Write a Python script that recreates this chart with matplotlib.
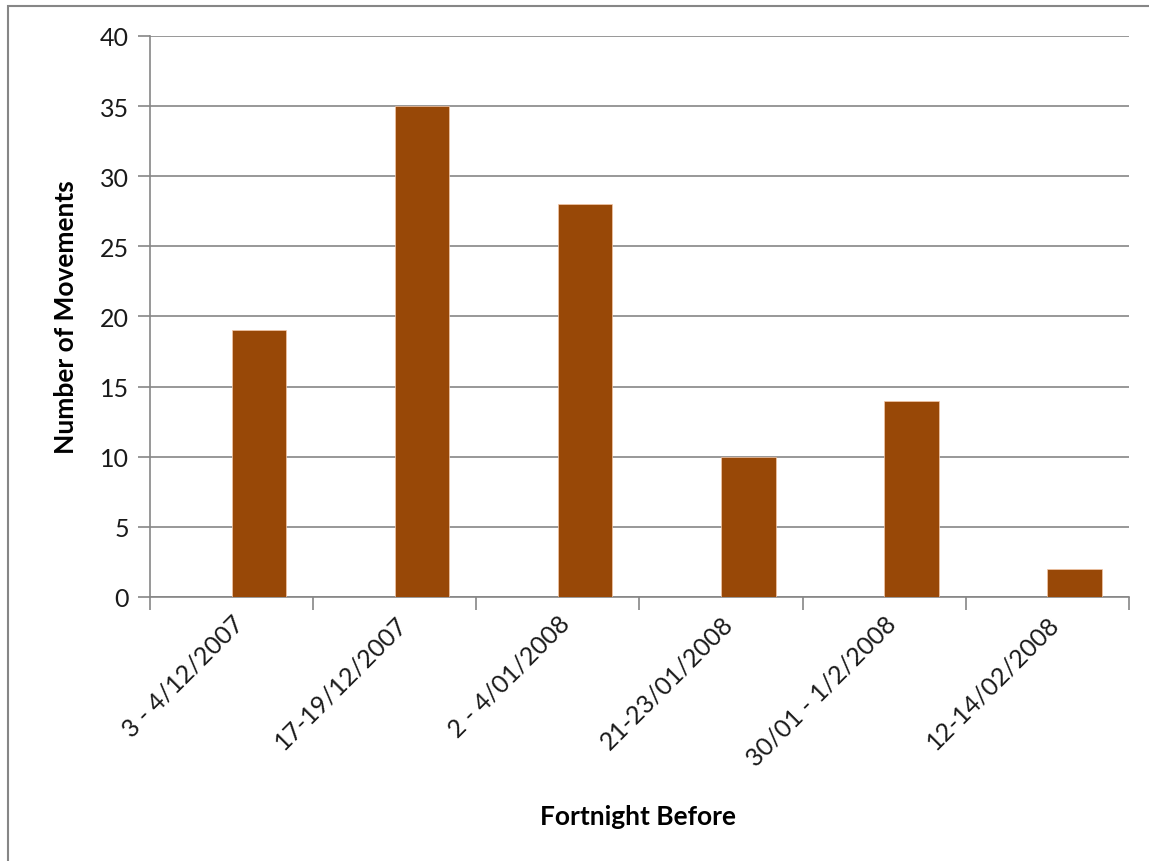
import numpy as np
import matplotlib.pyplot as plt
from matplotlib.patches import Rectangle

periods = ["3 - 4/12/2007", "17-19/12/2007", "2 - 4/01/2008",
           "21-23/01/2008", "30/01 - 1/2/2008", "12-14/02/2008"]
movements = [19, 35, 28, 10, 14, 2]

plt.rcParams['font.family'] = ['Lato', 'DejaVu Sans']

fig = plt.figure(figsize=(11.49, 8.62), dpi=100)
ax = fig.add_axes([0.1305, 0.3063, 0.852, 0.6508])

# frame around the whole chart area
fig.patches.append(Rectangle((8 / 1149, -0.05), 1.2, 1 - 7 / 862 + 0.05,
                             transform=fig.transFigure, fill=False,
                             edgecolor='#868686', linewidth=1.5))

x = np.arange(len(periods))
ax.bar(x + 0.5, movements, width=0.335, align='edge', color='#984807',
       edgecolor='#f4c7a8', linewidth=0.5, zorder=3)

ax.set_xlim(0, len(periods))
ax.set_ylim(0, 40)
ax.set_yticks(np.arange(0, 41, 5))
ax.grid(axis='y', color='#868686', linewidth=1.2, zorder=0)

ax.set_xticks(x + 0.5, minor=False)
ax.set_xticklabels(periods, rotation=45, ha='right', va='top',
                   rotation_mode='anchor', fontsize=18, color='#1a1a1a')
ax.tick_params(axis='x', which='major', length=0, pad=10)
ax.set_xticks(np.arange(len(periods) + 1), minor=True)
ax.tick_params(axis='x', which='minor', length=9, width=1.2, color='#868686')
ax.tick_params(axis='y', length=9, width=1.2, color='#868686',
               labelsize=18, labelcolor='#1a1a1a', pad=6)

for side in ['top', 'right']:
    ax.spines[side].set_visible(False)
for side in ['left', 'bottom']:
    ax.spines[side].set_color('#868686')
    ax.spines[side].set_linewidth(1.2)

ax.set_ylabel("Number of Movements", fontsize=19, fontweight='bold', labelpad=16)
fig.text(638 / 1149, 1 - 817 / 862, "Fortnight Before", fontsize=19,
         fontweight='bold', ha='center', va='center')

fig.savefig("out.png", dpi=100)
